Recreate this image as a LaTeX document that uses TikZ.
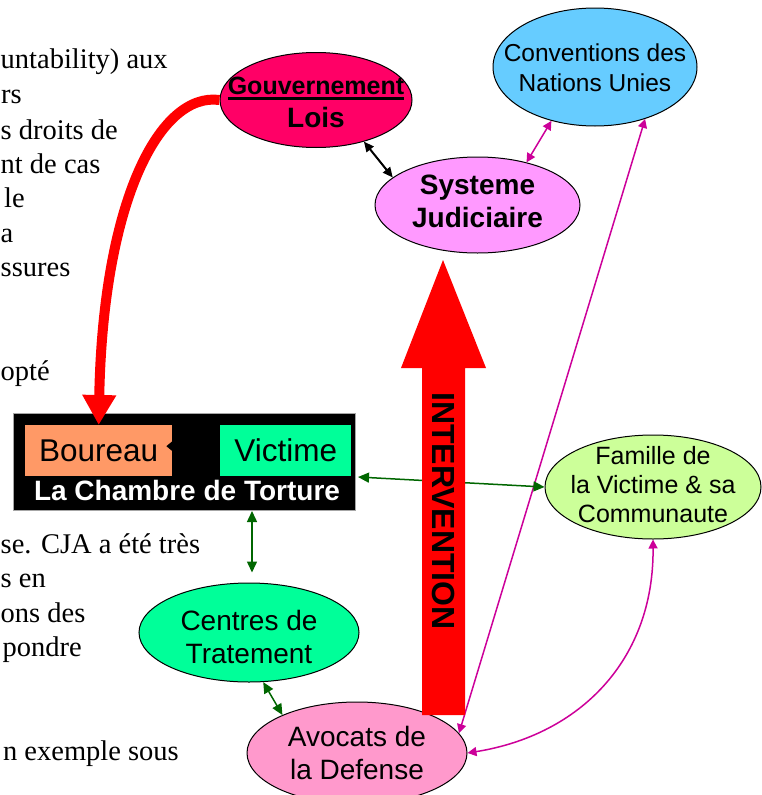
\documentclass[tikz,border=0pt]{standalone}
\usepackage{fontspec}
\setmainfont{Liberation Serif}
\newfontfamily\sansf{Liberation Sans}
\usetikzlibrary{shapes.geometric,arrows.meta}
\definecolor{gouvcol}{HTML}{FF0066}
\definecolor{convcol}{HTML}{66CCFF}
\definecolor{systcol}{HTML}{FF99FF}
\definecolor{famcol}{HTML}{CCFF99}
\definecolor{avoccol}{HTML}{FF99CC}
\definecolor{centcol}{HTML}{00FF99}
\definecolor{bourcol}{HTML}{FF9966}
\definecolor{victcol}{HTML}{00FF99}
\definecolor{magcol}{HTML}{CC0099}
\definecolor{grncol}{HTML}{006600}
\newcommand\ulinetxt[1]{\setbox0\hbox{#1}\rlap{\rule[-6pt]{\wd0}{2.6pt}}\box0}
\begin{document}
\begin{tikzpicture}[x=1pt,y=-1pt,
  ell/.style={ellipse, draw=black, line width=1pt, inner sep=0pt},
  lbl/.style={align=center, font=\sansf\fontsize{28}{33}\selectfont},
  lblb/.style={align=center, font=\sansf\bfseries\fontsize{28}{33}\selectfont},
  lblsm/.style={align=center, font=\sansf\fontsize{24.5}{30}\selectfont},
  lblfam/.style={align=center, font=\sansf\fontsize{25}{29}\selectfont},
  boxn/.style={inner sep=0pt, anchor=north west, font=\sansf\fontsize{31.5}{31.5}\selectfont},
  lefttxt/.style={anchor=base east, inner sep=0pt, font=\fontsize{28.5}{34}\selectfont},
  lefttxtw/.style={lefttxt, anchor=base west},
  conn/.style={line width=1.5pt, {Triangle[length=9pt,width=9pt]}-{Triangle[length=9pt,width=9pt]}},
  blkc/.style={conn, black, line width=2pt, {Triangle[length=10pt,width=9pt]}-{Triangle[length=10pt,width=9pt]}},
  magc/.style={conn, magcol},
  grnc/.style={conn, grncol, {Triangle[length=11pt,width=10pt]}-{Triangle[length=11pt,width=10pt]}}
]
\useasboundingbox (0,0) rectangle (761,795);

% left paragraph fragments (clipped by the page edge in the reference)
\node[lefttxtw] (t1) at (0.5,68) {untability) aux};
\node[lefttxt] (t2) at (22,103) {rs};
\node[lefttxtw] (t3) at (0.5,139) {s droits de};
\node[lefttxtw] (t4) at (0.5,173) {nt de cas};
\node[lefttxt] (t5) at (25,207) {le};
\node[lefttxtw] (t6) at (0.5,242) {a};
\node[lefttxtw] (t7) at (0.5,276) {ssures};
\node[lefttxtw] (t8) at (0.5,380) {opté};
\node[lefttxtw] (t9) at (0.5,553) {se. CJA a été très};
\node[lefttxtw] (t10) at (0.5,587) {s en};
\node[lefttxtw] (t11) at (0.5,622) {ons des};
\node[lefttxt] (t12) at (82,656) {pondre};
\node[lefttxt] (t13) at (179,760) {n exemple sous};

% ellipses
\node[ell, fill=gouvcol, minimum width=192, minimum height=95,
  label={[lblb, yshift=-2pt, font=\sansf\bfseries\fontsize{25}{33}\selectfont]center:\ulinetxt{Gouvernement}\\{\fontsize{28}{33}\selectfont Lois}}] (gouv) at (316,100) {};
\node[ell, fill=convcol, minimum width=204, minimum height=118,
  label={[lblsm, yshift=-1pt]center:Conventions des\\Nations Unies}] (conv) at (595,67) {};
\node[ell, fill=systcol, minimum width=205, minimum height=96,
  label={[lblb, yshift=4pt]center:Systeme\\Judiciaire}] (syst) at (477.5,205) {};
\node[ell, fill=famcol, minimum width=216, minimum height=104,
  label={[lblfam, yshift=2pt]center:Famille de\\la Victime \& sa\\Communaute}] (fam) at (653,487) {};
\node[ell, fill=centcol, minimum width=220, minimum height=99,
  label={[lbl, yshift=-4pt]center:Centres de\\Tratement}] (cent) at (249,632.5) {};
\node[ell, fill=avoccol, minimum width=220, minimum height=102,
  label={[lbl]center:Avocats de\\la Defense}] (avoc) at (357,753) {};

% torture chamber
\node[fill=black, draw=gray!70, line width=1pt, minimum width=342, minimum height=97,
  anchor=north west, inner sep=0pt] (chamber) at (13,413) {};
\node[boxn, fill=bourcol, minimum width=147, minimum height=51] (bour) at (25,425) {Boureau};
\fill[black] (bour.east) ++(0,-9.5) -- ++(-6,5) -- ++(6,5) -- cycle;
\node[boxn, fill=victcol, minimum width=131, minimum height=51] (vict) at (220,425) {Victime};
\node[anchor=base, inner sep=0pt, text=white, font=\sansf\bfseries\fontsize{28}{28}\selectfont] (title) at (187,500) {La Chambre de Torture};

% connectors
\coordinate (chamberR) at (358,477);
\draw[blkc] (gouv.-41) -- (syst.162);
\draw[magc] (syst.41) -- (conv.-129);
\draw[magc] (conv.-46) -- (avoc.11);
\draw[magc] (fam.south) .. controls (654,660) and (580,735) .. (avoc.east);
\draw[grnc] (chamberR) -- (fam.west);
\draw[grnc, shorten >=10pt] (chamber.south -| 252,0) -- (cent.north -| 252,0);
\draw[grnc] (cent.-74) -- (avoc.153);

% red curved arrow
\draw[red, line width=10pt, -{Triangle[length=30pt,width=32pt]}] (gouv.west) .. controls (160,92) and (103,200) .. (bour.north);

% intervention arrow
\fill[red] (443,260) -- (486,368) -- (465,368) -- (465,715) -- (422,715) -- (422,368) -- (401,368) -- cycle;
\node[rotate=-90, inner sep=0pt, font=\sansf\bfseries\fontsize{32}{32}\selectfont] (interv) at (443.5,511) {INTERVENTION};
\end{tikzpicture}
\end{document}
